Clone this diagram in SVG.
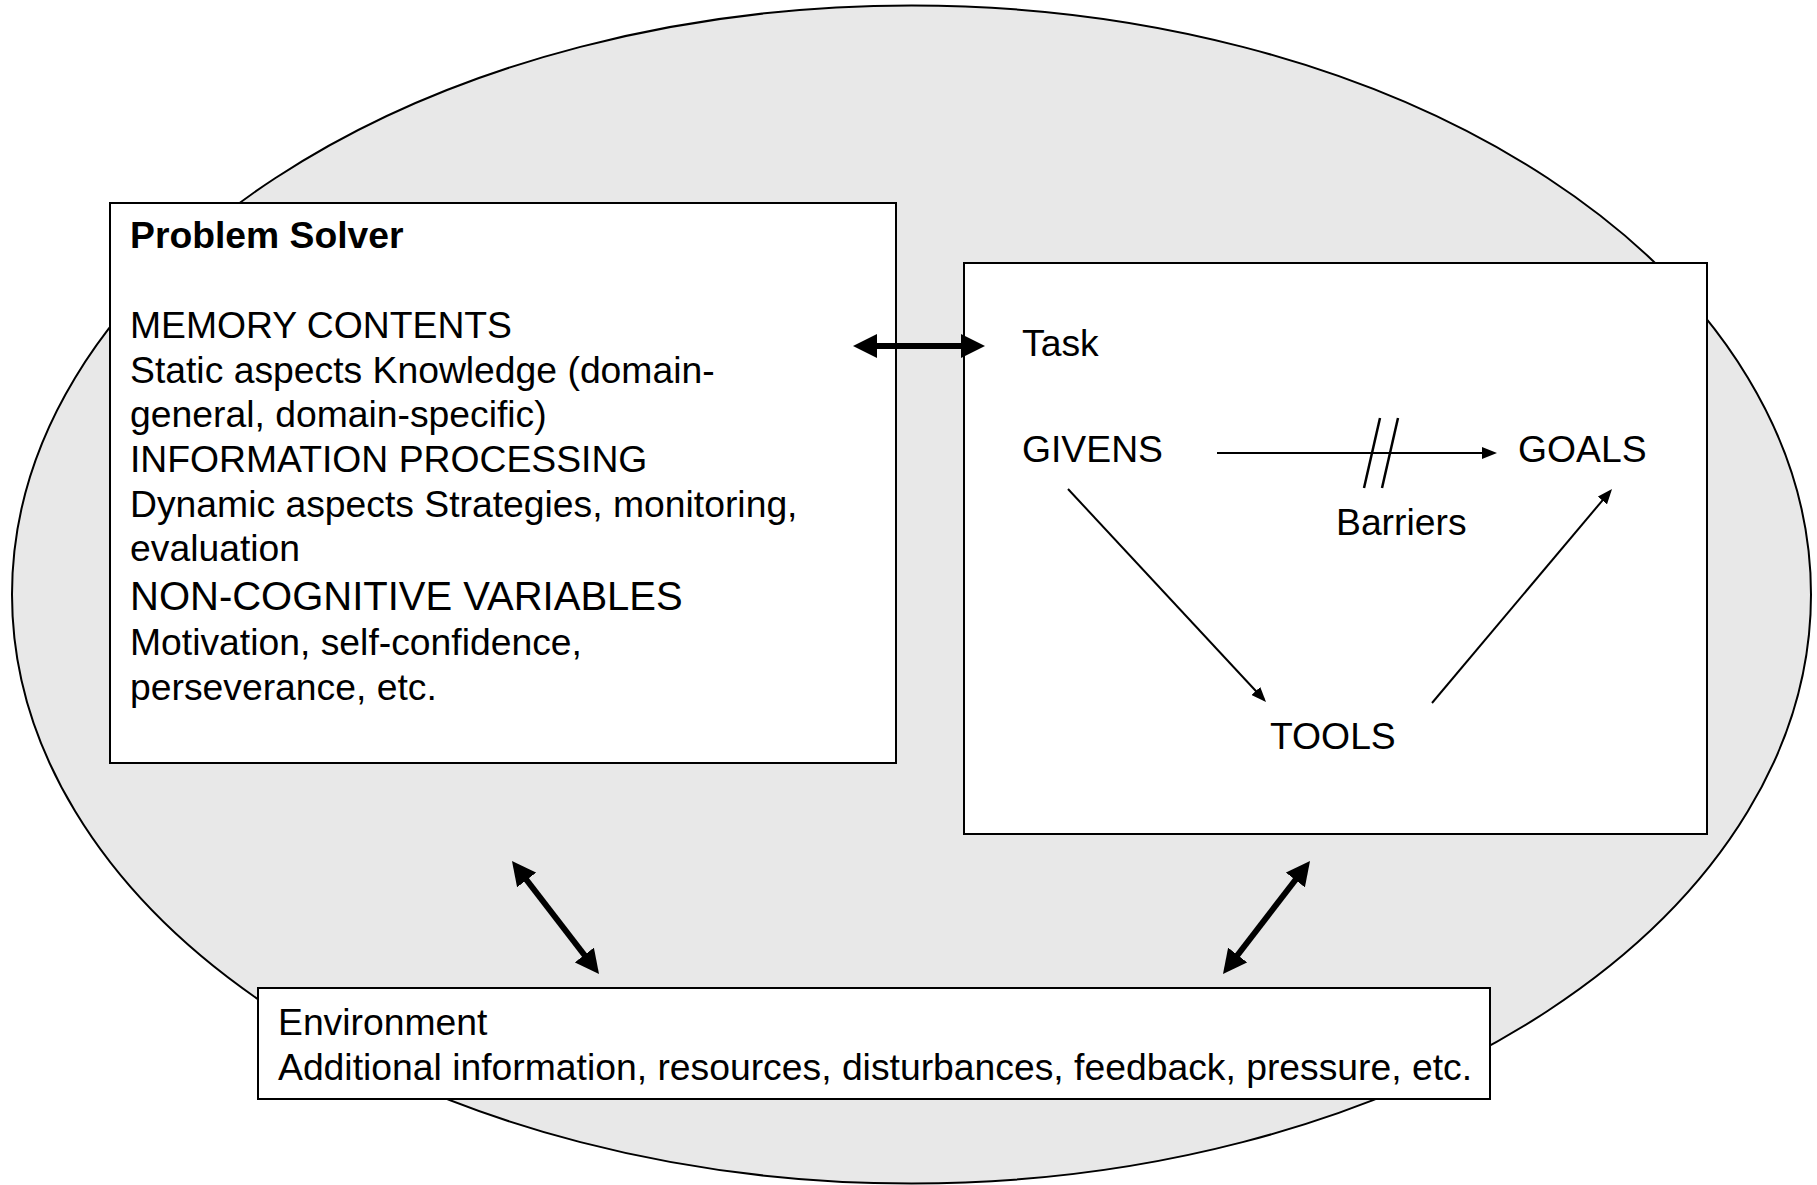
<svg xmlns="http://www.w3.org/2000/svg" width="1817" height="1185" viewBox="0 0 1817 1185">
  <style>
    .t { font-family: "Liberation Sans", Arial, sans-serif; font-size: 37.3px; fill: #000; }
    .b { font-weight: bold; }
    .big { font-size: 40px; }
    .box { fill: #fff; stroke: #000; stroke-width: 2; }
    .thick { stroke: #000; stroke-width: 6; fill: none; marker-start: url(#headThick); marker-end: url(#headThick); }
    .thin { stroke: #000; stroke-width: 2; fill: none; marker-end: url(#headThin); }
    .slash { stroke: #000; stroke-width: 2.5; fill: none; }
  </style>
  <defs>
    <marker id="headThick" markerUnits="userSpaceOnUse" markerWidth="24" markerHeight="24" viewBox="0 0 24 24" refX="12" refY="12" orient="auto-start-reverse">
      <path d="M0,0 L24,12 L0,24 z" fill="#000"/>
    </marker>
    <marker id="headThin" markerUnits="userSpaceOnUse" markerWidth="15" markerHeight="12" viewBox="0 0 15 12" refX="12" refY="6" orient="auto">
      <path d="M0,0 L15,6 L0,12 z" fill="#000"/>
    </marker>
  </defs>

  <g id="context">
    <ellipse cx="911.5" cy="594.5" rx="899.5" ry="589" fill="#e8e8e8" stroke="#000" stroke-width="2"/>
  </g>

  <g id="problem-solver">
    <rect class="box" x="110" y="203" width="786" height="560"/>
    <text class="t b" x="130" y="248">Problem Solver</text>
    <text class="t" x="130" y="337.5">MEMORY CONTENTS</text>
    <text class="t" x="130" y="382.5">Static aspects Knowledge (domain-</text>
    <text class="t" x="130" y="427">general, domain-specific)</text>
    <text class="t" x="130" y="472">INFORMATION PROCESSING</text>
    <text class="t" x="130" y="517">Dynamic aspects Strategies, monitoring,</text>
    <text class="t" x="130" y="561">evaluation</text>
    <text class="t big" x="130" y="610">NON-COGNITIVE VARIABLES</text>
    <text class="t" x="130" y="655">Motivation, self-confidence,</text>
    <text class="t" x="130" y="699.5">perseverance, etc.</text>
  </g>

  <g id="task">
    <rect class="box" x="964" y="263" width="743" height="571"/>
    <text class="t" x="1022" y="356">Task</text>
  </g>

  <g id="givens">
    <text class="t" x="1022" y="462">GIVENS</text>
  </g>
  <g id="goals">
    <text class="t" x="1518" y="462">GOALS</text>
  </g>
  <g id="tools">
    <text class="t" x="1270" y="749">TOOLS</text>
  </g>
  <g id="barriers">
    <text class="t" x="1336" y="535">Barriers</text>
  </g>

  <g id="environment">
    <rect class="box" x="258" y="988" width="1232" height="111"/>
    <text class="t" x="278" y="1035">Environment</text>
    <text class="t" x="278" y="1080">Additional information, resources, disturbances, feedback, pressure, etc.</text>
  </g>

  <g id="connectors">
    <line class="thick" x1="865" y1="346" x2="973" y2="346"/>
    <line class="thick" x1="519.3" y1="870.5" x2="591.7" y2="964.5"/>
    <line class="thick" x1="1302.7" y1="870.5" x2="1230.3" y2="964.5"/>
    <line class="thin" x1="1217" y1="453" x2="1494" y2="453"/>
    <line class="slash" x1="1380" y1="418" x2="1364" y2="488"/>
    <line class="slash" x1="1398" y1="418" x2="1382" y2="488"/>
    <line class="thin" x1="1068" y1="489" x2="1264" y2="699.8"/>
    <line class="thin" x1="1432" y1="703" x2="1610.1" y2="491.3"/>
  </g>
</svg>
